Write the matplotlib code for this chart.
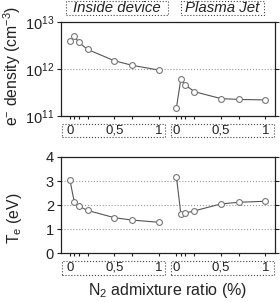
import numpy as np
import matplotlib
matplotlib.use("Agg")
import matplotlib.pyplot as plt
import matplotlib.transforms as mtransforms
from matplotlib.patches import Rectangle

plt.rcParams['font.family'] = ['Liberation Sans', 'DejaVu Sans']
plt.rcParams['mathtext.fontset'] = 'custom'
plt.rcParams['mathtext.rm'] = 'Liberation Sans'
plt.rcParams['mathtext.it'] = 'Liberation Sans:italic'

# N2 admixture ratio (%)
n2_ratio = [0, 0.05, 0.1, 0.2, 0.5, 0.7, 1.0]
# electron density (cm^-3)
ne_inside = [3.9e12, 5.0e12, 3.7e12, 2.6e12, 1.5e12, 1.2e12, 0.95e12]
ne_jet = [1.5e11, 6.2e11, 4.6e11, 3.3e11, 2.35e11, 2.25e11, 2.2e11]
# electron temperature (eV)
te_inside = [3.05, 2.12, 1.96, 1.78, 1.48, 1.38, 1.29]
te_jet = [3.18, 1.62, 1.67, 1.76, 2.05, 2.12, 2.16]

tick_pos = [0, 0.05, 0.1, 0.2, 0.5, 0.7, 1.0]
tick_lab = ['0', '', '', '', '0,5', '', '1']
group_names = ['Inside device', 'Plasma Jet']
jet_shift = 1.2  # second group drawn to the right of the first

W, H = 280, 302
fig = plt.figure(figsize=(W / 100, H / 100), dpi=100)

def px_axes(left, top, right, bottom):
    return fig.add_axes([left / W, 1 - bottom / H, (right - left) / W, (bottom - top) / H])

ax1 = px_axes(61, 22, 275, 116)
ax2 = px_axes(61, 157, 275, 253.3)

xs_in = np.array(n2_ratio)
xs_jet = xs_in + jet_shift
ink = '#222222'

for ax, yin, yjet in [(ax1, ne_inside, ne_jet), (ax2, te_inside, te_jet)]:
    for xs, ys in [(xs_in, yin), (xs_jet, yjet)]:
        ax.plot(xs, ys, '-', color='#555555', lw=0.8, marker='o', ms=4.2,
                mfc='white', mec='#777777', mew=0.8, zorder=3)
    ax.set_xlim(-0.1, 2.31)
    ax.set_xticks(list(tick_pos) + [t + jet_shift for t in tick_pos])
    ax.set_xticklabels(tick_lab + tick_lab)
    ax.tick_params(axis='x', direction='out', length=2.2, width=0.8, pad=4,
                   labelsize=9.5, colors=ink)
    ax.tick_params(axis='y', direction='out', length=2.6, width=0.8, right=True,
                   labelsize=10.5, colors=ink, pad=2.5)
    for s in ax.spines.values():
        s.set_linewidth(0.9)
        s.set_color(ink)
    trans = mtransforms.blended_transform_factory(ax.transData, ax.transAxes)
    # dotted boxes round the tick labels
    for x0, x1 in [(-0.087, 1.074), (1.135, 2.297)]:
        ax.add_patch(Rectangle((x0, -0.222), x1 - x0, 0.14, transform=trans,
                               fill=False, ls=':', lw=0.8, ec='#444444', clip_on=False))

ax1.set_yscale('log')
ax1.set_ylim(1e11, 1e13)
ax1.set_yticks([1e11, 1e12, 1e13])
ax1.minorticks_off()
ax1.tick_params(axis='y', which='minor', left=False, right=False)
ax1.axhline(1e12, color='#999999', ls=':', lw=0.8, zorder=1)

ax2.set_ylim(0, 4)
ax2.set_yticks([0, 1, 2, 3, 4])
for v in [1, 2, 3]:
    ax2.axhline(v, color='#999999', ls=':', lw=0.8, zorder=1)

# group labels above the top panel
trans1 = mtransforms.blended_transform_factory(ax1.transData, ax1.transAxes)
for name, (x0, x1) in zip(group_names, [(-0.048, 1.101), (1.248, 2.187)]):
    ax1.add_patch(Rectangle((x0, 1.071), x1 - x0, 0.152, transform=trans1,
                            fill=False, ls=':', lw=0.8, ec='#444444', clip_on=False))
    ax1.text((x0 + x1) / 2, 1.147, name, transform=trans1, ha='center', va='center',
             style='italic', fontsize=10.8, color=ink)

fig.text(12 / W, 1 - 66 / H, 'e$^{-}$ density (cm$^{-3}$)', rotation=90,
         ha='center', va='center', fontsize=11.3, color=ink)
fig.text(14 / W, 1 - 218 / H, 'T$_\\mathrm{e}$ (eV)', rotation=90,
         ha='center', va='center', fontsize=11.3, color=ink)
fig.text(168 / W, 1 - 290 / H, 'N$_{2}$ admixture ratio (%)',
         ha='center', va='center', fontsize=11.5, color=ink)

fig.savefig('out.png', dpi=100)
